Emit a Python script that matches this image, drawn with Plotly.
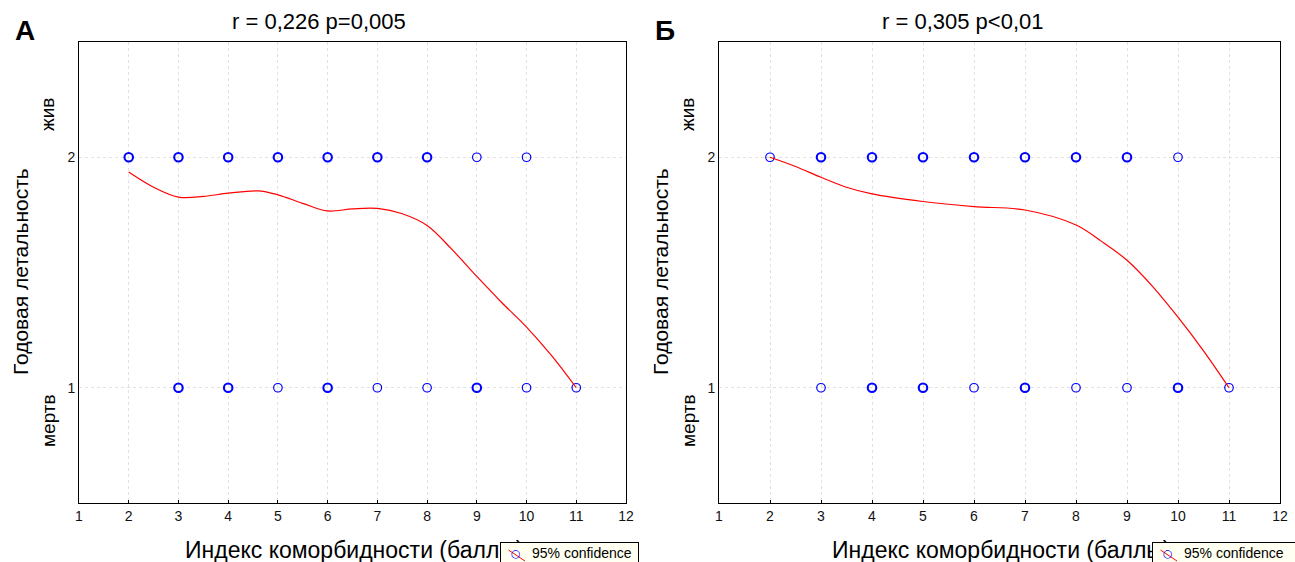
import plotly.graph_objects as go

# ---------------- data ----------------
# Panel A
a_alive_x = [2, 3, 4, 5, 6, 7, 8, 9, 10]
a_alive_n = [2, 2, 2, 2, 2, 2, 2, 1, 1]
a_dead_x = [3, 4, 5, 6, 7, 8, 9, 10, 11]
a_dead_n = [2, 2, 1, 2, 1, 1, 2, 1, 1]
a_fit_x = [2, 2.5, 3, 3.5, 4, 4.6, 5, 5.5, 6, 6.5, 7, 7.5, 8, 8.5, 9, 9.5, 10, 10.5, 11]
a_fit_y = [1.936, 1.87, 1.827, 1.83, 1.844, 1.854, 1.837, 1.80, 1.767, 1.776, 1.778, 1.755, 1.704, 1.60, 1.483, 1.37, 1.263, 1.14, 1.0]

# Panel B
b_alive_x = [2, 3, 4, 5, 6, 7, 8, 9, 10]
b_alive_n = [1, 2, 2, 2, 2, 2, 2, 2, 1]
b_dead_x = [3, 4, 5, 6, 7, 8, 9, 10, 11]
b_dead_n = [1, 2, 2, 1, 2, 1, 1, 2, 1]
b_fit_x = [2, 2.5, 3, 3.5, 4, 5, 6, 7, 8, 8.5, 9, 9.5, 10, 10.5, 11]
b_fit_y = [2.0, 1.96, 1.913, 1.87, 1.841, 1.808, 1.786, 1.771, 1.706, 1.635, 1.553, 1.44, 1.306, 1.16, 1.0]

titles = ["r = 0,226 p=0,005", "r = 0,305 p<0,01"]
letters = ["А", "Б"]
x_title = "Индекс коморбидности (баллы)"
y_title = "Годовая летальность"
y_ticks = [1, 2]
y_cat = ["мертв", "жив"]
x_ticks = list(range(1, 13))
legend_name = "95% confidence"

W, H = 1295, 562
FONT = "Liberation Sans, Arial, sans-serif"

fig = go.Figure()

panels = [
    dict(alive_x=a_alive_x, alive_n=a_alive_n, dead_x=a_dead_x, dead_n=a_dead_n,
         fit_x=a_fit_x, fit_y=a_fit_y, px0=79, px1=626, xa="x", ya="y", leg_x=500, leg_w=137),
    dict(alive_x=b_alive_x, alive_n=b_alive_n, dead_x=b_dead_x, dead_n=b_dead_n,
         fit_x=b_fit_x, fit_y=b_fit_y, px0=719, px1=1280, xa="x2", ya="y2", leg_x=1152, leg_w=150),
]

top_px, bot_px = 42, 503
ydom = [1 - bot_px / H, 1 - top_px / H]


def px_x(v):
    return v / W


def px_y(v):
    return 1 - v / H


annotations = []
for i, p in enumerate(panels):
    px = p["alive_x"] + p["dead_x"]
    py = [y_ticks[1]] * len(p["alive_x"]) + [y_ticks[0]] * len(p["dead_x"])
    pn = p["alive_n"] + p["dead_n"]
    fig.add_trace(go.Scatter(
        x=px, y=py, mode="markers", xaxis=p["xa"], yaxis=p["ya"], showlegend=False,
        marker=dict(symbol="circle-open", size=8.5, color="#0000ff",
                    line=dict(color="#0000ff", width=[1.2 + 0.9 * (n - 1) for n in pn]))))
    fig.add_trace(go.Scatter(
        x=p["fit_x"], y=p["fit_y"], mode="lines", xaxis=p["xa"], yaxis=p["ya"], showlegend=False,
        line=dict(color="#ff0000", width=1.2, shape="spline", smoothing=1.0)))

    ax = dict(domain=[px_x(p["px0"]), px_x(p["px1"])], range=[1, 12], tickvals=x_ticks,
              showgrid=True, gridcolor="#e2e2e2", griddash="dot", gridwidth=1,
              showline=True, linecolor="#000000", linewidth=1, mirror=True,
              ticks="inside", ticklen=3, tickcolor="#000000", automargin=False,
              tickfont=dict(family=FONT, size=14, color="#111111"), zeroline=False,
              anchor=p["ya"])
    ay = dict(domain=ydom, range=[0.5, 2.5], tickvals=y_ticks, ticktext=[str(v) for v in y_ticks],
              showgrid=True, gridcolor="#e2e2e2", griddash="dot", gridwidth=1,
              showline=True, linecolor="#000000", linewidth=1, mirror=True, automargin=False,
              ticks="", tickfont=dict(family=FONT, size=14, color="#111111"), zeroline=False,
              anchor=p["xa"])
    if i == 0:
        fig.update_layout(xaxis=ax, yaxis=ay)
    else:
        fig.update_layout(xaxis2=ax, yaxis2=ay)

    left = p["px0"]
    cx = (p["px0"] + p["px1"]) / 2
    region_c = 319 if i == 0 else 962
    lx = p["leg_x"]
    annotations += [
        dict(text=titles[i], x=px_x(region_c), y=px_y(22), xref="paper", yref="paper",
             showarrow=False, font=dict(family=FONT, size=22, color="#000000"),
             xanchor="center", yanchor="middle"),
        dict(text="<b>" + letters[i] + "</b>", x=px_x(left - 66), y=px_y(30),
             xref="paper", yref="paper", showarrow=False,
             font=dict(family=FONT, size=28, color="#000000"), xanchor="left", yanchor="middle"),
        dict(text=x_title, x=px_x(cx + 2), y=px_y(550), xref="paper", yref="paper",
             showarrow=False, font=dict(family=FONT, size=23, color="#000000"),
             xanchor="center", yanchor="middle"),
        dict(text=y_title, x=px_x(left - 59), y=px_y(272), xref="paper", yref="paper",
             showarrow=False, textangle=-90, font=dict(family=FONT, size=21, color="#000000"),
             xanchor="center", yanchor="middle"),
        dict(text=y_cat[1], x=px_x(left - 31), y=px_y(115), xref="paper", yref="paper",
             showarrow=False, textangle=-90, font=dict(family=FONT, size=19, color="#000000"),
             xanchor="center", yanchor="middle"),
        dict(text=y_cat[0], x=px_x(left - 31), y=px_y(421), xref="paper", yref="paper",
             showarrow=False, textangle=-90, font=dict(family=FONT, size=19, color="#000000"),
             xanchor="center", yanchor="middle"),
        # legend box (drawn after the axis title so it covers it, as in the reference)
        dict(text="\u00a0", x=px_x(lx), y=px_y(542), xref="paper", yref="paper",
             showarrow=False, width=p["leg_w"], height=30, bgcolor="#fffff2",
             bordercolor="#000000", borderwidth=1, borderpad=0,
             xanchor="left", yanchor="top", font=dict(size=10)),
        # legend icon: red line
        dict(text="", x=px_x(lx + 25), y=px_y(561), xref="paper", yref="paper",
             showarrow=True, arrowhead=0, arrowwidth=1, arrowcolor="#ff0000",
             ax=-18, ay=-12, standoff=0, startstandoff=0),
        # legend icon: blue circle
        dict(text="○", x=px_x(lx + 16), y=px_y(553), xref="paper", yref="paper",
             showarrow=False, font=dict(family="DejaVu Sans", size=11, color="#0000ff"),
             xanchor="center", yanchor="middle"),
        # legend text
        dict(text=legend_name, x=px_x(lx + 30), y=px_y(553), xref="paper", yref="paper",
             showarrow=False, font=dict(family=FONT, size=14, color="#000000"),
             xanchor="left", yanchor="middle"),
    ]

fig.update_layout(
    width=W, height=H, margin=dict(l=0, r=0, t=0, b=0, autoexpand=False),
    paper_bgcolor="#ffffff", plot_bgcolor="#ffffff",
    annotations=annotations,
    showlegend=False,
)

fig.write_html(
    "out.html",
    config={"displayModeBar": False},
    post_script="document.body.style.margin='0';document.body.style.overflow='hidden';",
)
